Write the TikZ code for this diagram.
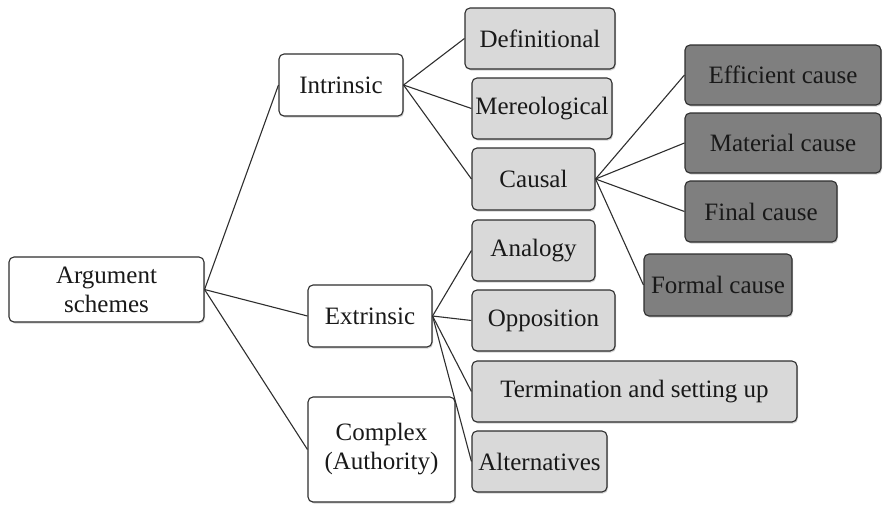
\documentclass[tikz,border=0pt]{standalone}
\usepackage{fontspec}
\setmainfont{Liberation Serif}
\usetikzlibrary{shadows}
\definecolor{lightbox}{HTML}{D9D9D9}
\definecolor{darkbox}{HTML}{7F7F7F}
\definecolor{edgecol}{HTML}{2E2E2E}
\tikzset{
  basebox/.style={draw=edgecol, line width=1.1pt, rounded corners=5pt, align=center,
    font=\fontsize{25}{29}\selectfont, text=black!90, inner sep=0pt,
    drop shadow={shadow xshift=1pt, shadow yshift=-1.5pt, opacity=0.35}},
  whitebox/.style={basebox, fill=white},
  greybox/.style={basebox, fill=lightbox},
  darkgbox/.style={basebox, fill=darkbox},
  link/.style={draw=edgecol, line width=1.1pt}
}
\begin{document}
\begin{tikzpicture}[x=1pt,y=-1pt]
\useasboundingbox (0,0) rectangle (883,504);
% root and level 1
\node[whitebox, minimum width=195pt, minimum height=65pt] (arg) at (106.5,289.5) {Argument\\schemes};
\node[whitebox, minimum width=124pt, minimum height=62pt] (intr) at (341,85) {Intrinsic};
\node[whitebox, minimum width=124pt, minimum height=62pt] (extr) at (370,316) {Extrinsic};
\node[whitebox, minimum width=147pt, minimum height=105pt] (comp) at (381.5,449.5) {Complex\\(Authority)};
% intrinsic children
\node[greybox, minimum width=150pt, minimum height=61pt] (def) at (540,38.5) {Definitional};
\node[greybox, minimum width=140pt, minimum height=61pt] (mer) at (542,108.5) {Mereological};
\node[greybox, minimum width=123pt, minimum height=62pt] (cau) at (533.5,179) {Causal};
% causal children
\node[darkgbox, minimum width=196pt, minimum height=60pt] (eff) at (783,75) {Efficient cause};
\node[darkgbox, minimum width=196pt, minimum height=60pt] (mat) at (783,143) {Material cause};
\node[darkgbox, minimum width=152pt, minimum height=61pt] (fin) at (761,211.5) {Final cause};
\node[darkgbox, minimum width=148pt, minimum height=62pt] (for) at (718,285) {Formal cause};
% extrinsic children
\node[greybox, minimum width=123pt, minimum height=61pt] (ana) at (533.5,250.5) {Analogy};
\node[greybox, minimum width=143pt, minimum height=61pt] (opp) at (543.5,320.5) {Opposition};
\node[greybox, minimum width=325pt, minimum height=61pt] (ter) at (634.5,391.5) {Termination and setting up};
\node[greybox, minimum width=135pt, minimum height=61pt] (alt) at (539.5,461.5) {Alternatives};
% connectors
\draw[link] (arg.east) -- (intr.west);
\draw[link] (arg.east) -- (extr.west);
\draw[link] (arg.east) -- (comp.west);
\draw[link] (intr.east) -- (def.west);
\draw[link] (intr.east) -- (mer.west);
\draw[link] (intr.east) -- (cau.west);
\draw[link] (cau.east) -- (eff.west);
\draw[link] (cau.east) -- (mat.west);
\draw[link] (cau.east) -- (fin.west);
\draw[link] (cau.east) -- (for.west);
\draw[link] (extr.east) -- (ana.west);
\draw[link] (extr.east) -- (opp.west);
\draw[link] (extr.east) -- (ter.west);
\draw[link] (extr.east) -- (alt.west);
\end{tikzpicture}
\end{document}
